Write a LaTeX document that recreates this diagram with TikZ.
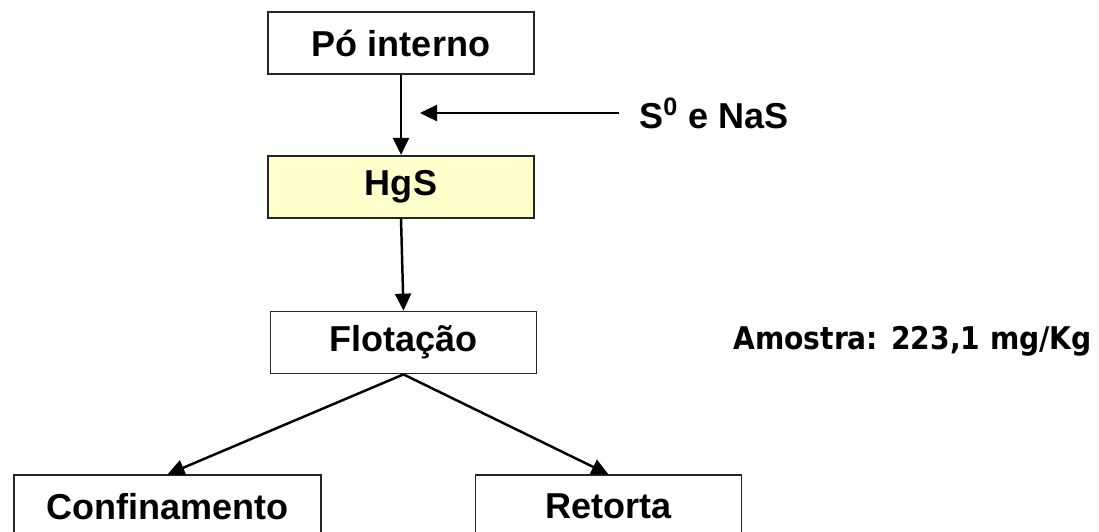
\documentclass[tikz,border=0pt]{standalone}
\usepackage{fontspec}
\setmainfont{Liberation Sans}
\newfontfamily\notefont[FakeStretch=0.9]{DejaVu Sans}
\usepackage{xcolor}
\usetikzlibrary{shapes,arrows.meta,positioning}

\definecolor{hgsyellow}{HTML}{FFFFCC}

\tikzset{
  stage/.style={draw=black!85, line width=1pt, rectangle, minimum width=5.32cm, minimum height=1.24cm, align=center, font=\fontsize{20.5}{24}\selectfont\bfseries},
  flow/.style={-{Triangle[length=0.34cm,width=0.32cm]}, line width=1.4pt}
}

\begin{document}
\begin{tikzpicture}[node distance=1.6cm]
        \useasboundingbox (0,0) rectangle (21.98,-10.62);
        % Nodes
        \node[stage] (po) at (8.02,-0.86) {Pó interno};
        \node[stage, fill=hgsyellow, below=of po] (hgs) {HgS};
        \node[stage, below=1.84cm of hgs, xshift=0.05cm] (flot) {Flotação};
        \node[stage, minimum width=6.14cm, below=2cm of flot, xshift=-4.72cm] (conf) {Confinamento};
        \node[stage, below=2cm of flot, xshift=4.1cm] (ret) {Retorta};
        \node[anchor=west, inner sep=0, font=\fontsize{20.5}{24}\selectfont\bfseries] (reag) at (12.78,-2.26) {S\textsuperscript{0} e NaS};
        \node[anchor=west, inner sep=0, font=\notefont\fontsize{17.8}{21}\selectfont\bfseries] (amostra) at (14.66,-6.82) {Amostra: 223,1 mg/Kg};

        % Reagent inlet
        \coordinate (adds) at ([xshift=-0.4cm]reag.west);
        \path (po.south |- adds) ++(0.38,0) coordinate (join);

        % Arrows
        \draw[flow] (po) -- (hgs);
        \draw[flow] (adds) -- (join);
        \draw[flow] (hgs.south) -- (flot.north);
        \draw[flow] (flot.south) -- (conf.north);
        \draw[flow] (flot.south) -- (ret.north);
    \end{tikzpicture}
\end{document}
